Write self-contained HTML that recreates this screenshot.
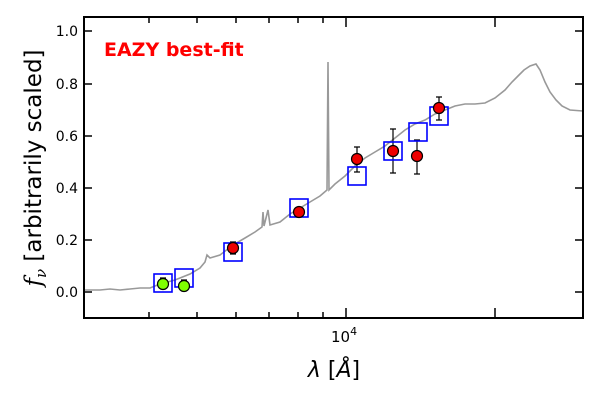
<!DOCTYPE html><html><head><style>body{margin:0;background:#fff}svg{display:block}text{font-family:"DejaVu Sans","Liberation Sans",sans-serif}</style></head><body>
<svg width="600" height="400" viewBox="0 0 600 400">
<polyline fill="none" stroke="#999" stroke-width="1.6" points="84,290 100,290 110,289 120,290 130,289 140,288 150,288 160,284 175,280 190,274 200,268 205,262 207,255 210,258 220,255 233,245 245,238 255,232 262,227 263,212 264,226 268,210 270,225 280,222 290,214 300,208 310,202 320,196 327,190 328,62 329,190 335,184 345,176 355,166 365,158 375,152 385,146 395,138 405,130 415,124 425,120 435,114 445,110 455,106 465,104 475,104 485,103 495,98 505,90 512,82 518,76 524,70 530,66 536,64 540,70 545,82 550,92 556,100 562,106 570,110 583,111"/>
<g stroke="#000" stroke-width="1.2">
<line x1="163" y1="278" x2="163" y2="290"/><line x1="184" y1="280" x2="184" y2="291"/>
<line x1="233" y1="242" x2="233" y2="254"/><line x1="299" y1="208" x2="299" y2="216"/>
<line x1="357" y1="147" x2="357" y2="172"/><line x1="393" y1="129" x2="393" y2="173"/>
<line x1="417" y1="140" x2="417" y2="174"/><line x1="439" y1="97" x2="439" y2="120"/>
<path d="M160 278h6M181 280h6M230 242h6M230 254h6M296 208h6M296 216h6M354 147h6M354 172h6M390 129h6M390 173h6M414 140h6M414 174h6M436 97h6M436 120h6"/></g>
<g fill="none" stroke="#00f" stroke-width="1.6">
<rect x="154" y="274" width="18" height="18"/><rect x="175" y="269" width="18" height="18"/><rect x="224" y="243" width="18" height="18"/><rect x="290" y="199" width="18" height="18"/><rect x="348" y="167" width="18" height="18"/><rect x="384" y="142" width="18" height="18"/><rect x="409" y="123" width="18" height="18"/><rect x="430" y="107" width="18" height="18"/></g>
<g stroke="#000" stroke-width="1.2"><circle cx="163" cy="284" r="5.5" fill="#7fff00"/><circle cx="184" cy="286" r="5.5" fill="#7fff00"/>
<g fill="#e00"><circle cx="233" cy="248" r="5.5"/><circle cx="299" cy="212" r="5.5"/><circle cx="357" cy="159" r="5.5"/><circle cx="393" cy="151" r="5.5"/><circle cx="417" cy="156" r="5.5"/><circle cx="439" cy="108" r="5.5"/></g></g>
<rect x="84" y="17" width="499" height="301" fill="none" stroke="#000" stroke-width="2"/>
<g stroke="#000" stroke-width="1.5"><path d="M84 292h8M84 240h8M84 188h8M84 136h8M84 84h8M84 31h8M583 292h-8M583 240h-8M583 188h-8M583 136h-8M583 84h-8M583 31h-8M346 318v-10M346 17v10M495 318v-10M495 17v10M149 318v-6M197 318v-6M236 318v-6M269 318v-6M298 318v-6M323 318v-6M149 17v6M197 17v6M236 17v6M269 17v6M298 17v6M323 17v6"/></g>
<g font-size="14" text-anchor="end"><text x="78" y="297">0.0</text><text x="78" y="245">0.2</text><text x="78" y="193">0.4</text><text x="78" y="141">0.6</text><text x="78" y="89">0.8</text><text x="78" y="36">1.0</text></g>
<text x="331" y="342" font-size="15">10<tspan dy="-7" font-size="11">4</tspan></text>
<text x="104" y="56" font-size="19" font-weight="bold" fill="#f00" font-family="Liberation Sans,sans-serif">EAZY best-fit</text>
<text x="334" y="377" font-size="22" text-anchor="middle" font-family="DejaVu Serif,serif"><tspan font-style="italic">λ</tspan> [<tspan font-style="italic">Å</tspan>]</text>
<text transform="translate(41,168) rotate(-90)" font-size="23" text-anchor="middle"><tspan font-style="italic" font-family="DejaVu Serif,serif">f<tspan font-size="15" dy="5">ν</tspan></tspan><tspan dy="-5"> [arbitrarily scaled]</tspan></text>
</svg></body></html>
